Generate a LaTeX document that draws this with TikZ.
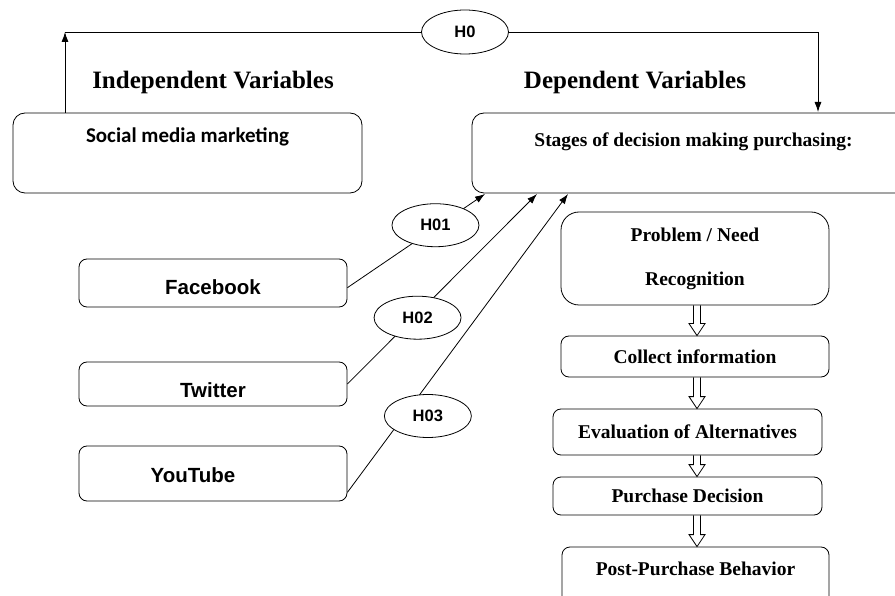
\documentclass[tikz,border=0pt]{standalone}
\usepackage{fontspec}
\newfontfamily\timesf{Liberation Serif}
\newfontfamily\arialf{Liberation Sans}
\newfontfamily\calibrif{Carlito}
\usetikzlibrary{arrows.meta,shapes.geometric,calc}

\begin{document}
\begin{tikzpicture}
  [x=1pt,y=-1pt,
   title/.style={font=\timesf\bfseries\fontsize{25}{30}\selectfont},
   bigbox/.style={rectangle,draw,rounded corners=12pt,line width=0.8pt,inner sep=0pt},
   smbox/.style={rectangle,draw,rounded corners=8pt,line width=0.8pt,inner sep=0pt,
                 minimum width=268pt,font=\arialf\bfseries\fontsize{20.5}{24}\selectfont},
   stage/.style={rectangle,draw,rounded corners=8pt,line width=0.8pt,inner sep=0pt,
                 font=\timesf\bfseries\fontsize{19.5}{24}\selectfont},
   hyp/.style={ellipse,draw,fill=white,line width=0.8pt,inner sep=0pt,
               minimum width=87pt,minimum height=43pt,
               font=\arialf\bfseries\fontsize{16.5}{18}\selectfont},
   arr/.style={line width=0.8pt,-{Latex[length=10pt,width=7pt]}},
   hollow/.style={line width=0.8pt,to path={
       ($(\tikztostart)+(-3.5,0)$) -- ($(\tikztotarget)+(-3.5,-12)$)
       -- ($(\tikztotarget)+(-8,-12)$) -- (\tikztotarget)
       -- ($(\tikztotarget)+(8,-12)$) -- ($(\tikztotarget)+(3.5,-12)$)
       -- ($(\tikztostart)+(3.5,0)$)}}]
  \useasboundingbox (0,0) rectangle (895,596);
  \clip (0,0) rectangle (895,596);

  % headings
  \node (indep) at (213,82) [title] {Independent Variables};
  \node (dep) at (635,82) [title] {Dependent Variables};

  % main boxes
  \node (smm) at (187.5,153) [bigbox,minimum width=349pt,minimum height=80pt,
     text height=15pt,text depth=35pt,font=\calibrif\bfseries\fontsize{21}{25}\selectfont]
     {Social media marketing};
  \node (stages) at (693.5,153) [bigbox,minimum width=443pt,minimum height=80pt,
     text height=14pt,text depth=26pt,font=\timesf\bfseries\fontsize{19.5}{24}\selectfont]
     {Stages of decision making purchasing:};

  % social media platforms
  \node (fb) at (213,283) [smbox,minimum height=48pt,text height=24pt,text depth=0pt] {Facebook};
  \node (tw) at (213,384) [smbox,minimum height=44pt,text height=26pt,text depth=0pt] {Twitter};
  \node (yt) at (213,473.5) [smbox,minimum height=55pt,text height=17pt,text depth=0pt]
     {YouTube\hspace*{40pt}};

  % decision stages
  \node (prob) at (695,258.5) [stage,rounded corners=18pt,minimum width=268pt,minimum height=93pt,
     align=center] {Problem / Need\\[20pt]Recognition};
  \node (coll) at (695,356.5) [stage,minimum width=268pt,minimum height=41pt] {Collect information};
  \node (eval) at (687.5,432) [stage,minimum width=269pt,minimum height=46pt] {Evaluation of Alternatives};
  \node (dec) at (687.5,496) [stage,minimum width=269pt,minimum height=38pt] {Purchase Decision};
  \node (post) at (695.5,578.5) [stage,minimum width=267pt,minimum height=63pt,
     text height=14pt,text depth=21pt] {Post-Purchase Behavior};

  % H0 link
  \node (h0) at (465,32) [hyp,minimum height=44pt] {H0};
  \coordinate (lc) at (65,32);
  \coordinate (in0) at (818,112);
  \draw[arr] (smm.north -| lc) -- (lc);
  \draw[line width=0.8pt] (h0) -- (lc);
  \draw[arr] (h0) -| (in0);

  % platform links
  \coordinate (in1) at (485,194);
  \coordinate (in2) at (537,194);
  \coordinate (in3) at (568,194);
  \draw[arr] (fb.-2) -- node[hyp,pos=0.64,yshift=2.5pt] (h01) {H01} (in1);
  \draw[arr] (tw.east) -- node[hyp,pos=0.37,yshift=-4pt] (h02) {H02} (in2);
  \draw[arr] (yt.-8) -- node[hyp,pos=0.256,xshift=24pt] (h03) {H03} (in3);

  % stage flow
  \coordinate (ax) at (697,0);
  \draw[hollow] (prob.south -| ax) to (coll.north -| ax);
  \draw[hollow] (coll.south -| ax) to (eval.north -| ax);
  \draw[hollow] (eval.south -| ax) to (dec.north -| ax);
  \draw[hollow] (dec.south -| ax) to (post.north -| ax);
\end{tikzpicture}
\end{document}
